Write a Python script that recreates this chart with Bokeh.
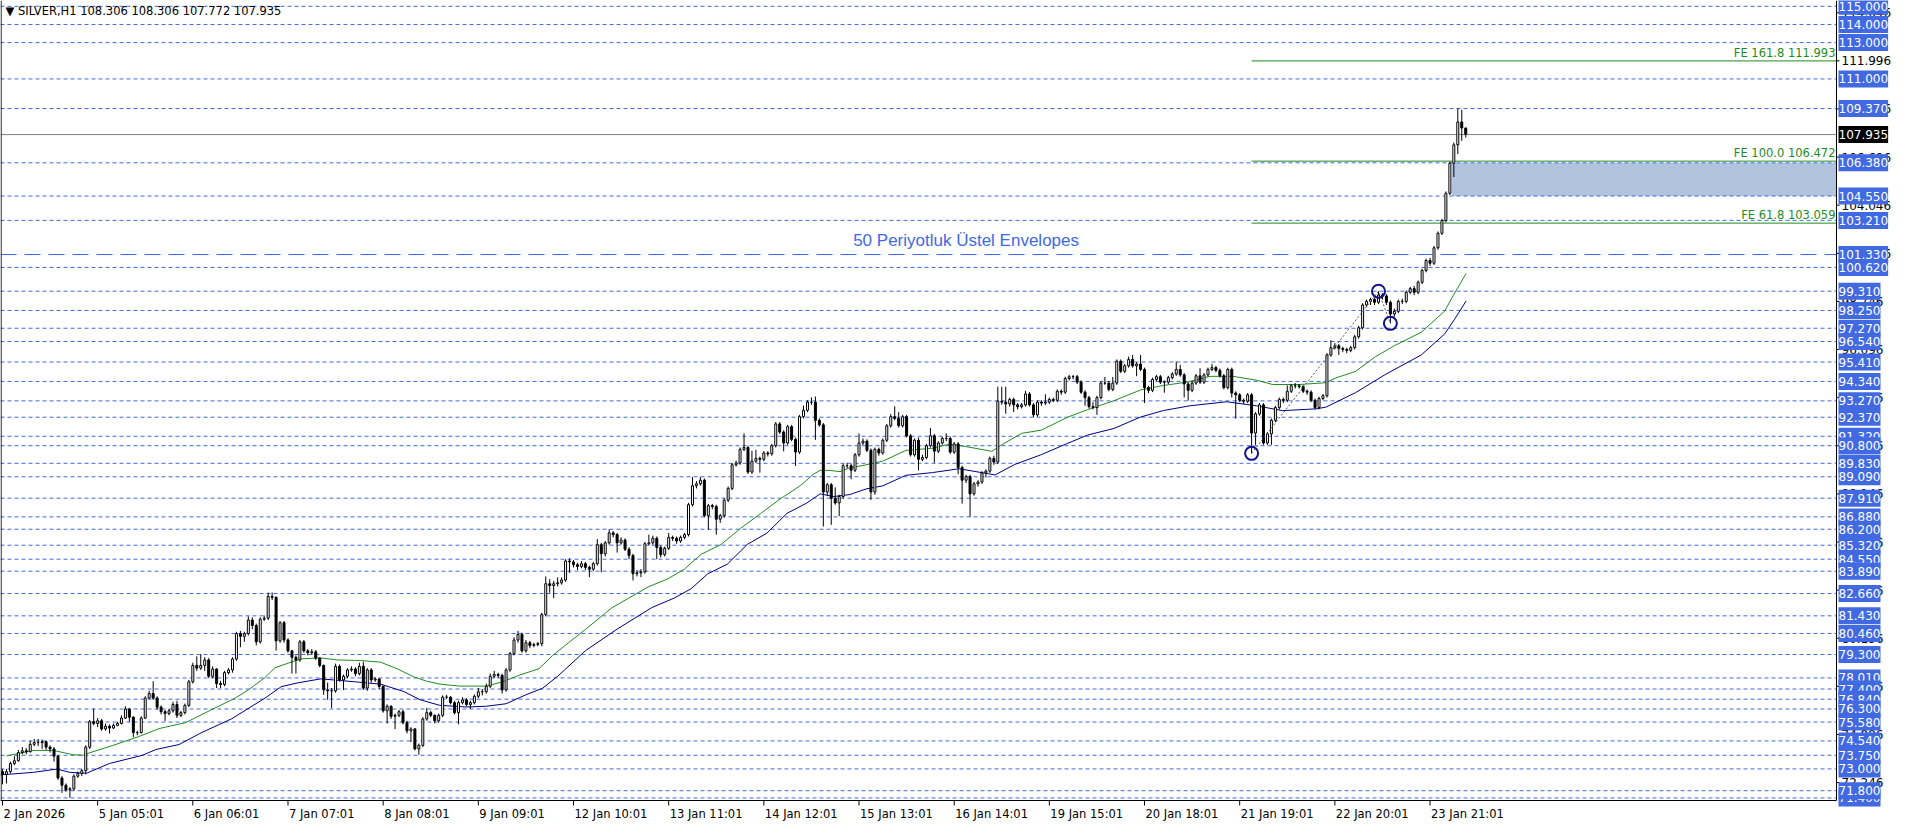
import math
from bokeh.plotting import figure
from bokeh.models import Label
from bokeh.embed import file_html
from bokeh.resources import INLINE
from bokeh.core.properties import value

# ---------------- data ----------------
symbol_text = "SILVER,H1"
last_ohlc = [108.306, 108.306, 107.772, 107.935]
first_open = 72.85

closes = [
    72.70, 72.85, 73.30, 73.45, 73.90, 74.00, 73.95, 74.35, 74.45, 74.45,
    74.50, 74.20, 74.10, 73.70, 72.50, 72.10, 71.85, 71.90, 72.60, 72.75,
    72.90, 74.20, 75.60, 75.50, 75.65, 75.20, 75.35, 75.25, 75.40, 75.50,
    75.80, 76.30, 75.85, 75.00, 75.00, 75.80, 76.90, 77.15, 76.90, 76.40,
    76.15, 76.05, 76.20, 76.55, 75.95, 76.10, 76.50, 77.80, 78.70, 78.55,
    78.70, 79.00, 78.10, 78.50, 77.70, 77.65, 78.30, 78.45, 79.05, 80.45,
    80.30, 80.45, 81.20, 80.90, 80.00, 81.25, 81.30, 82.50, 82.45, 80.05,
    81.05, 80.10, 79.50, 79.15, 79.00, 80.00, 79.50, 79.40, 79.45, 79.10,
    78.70, 77.35, 77.30, 77.30, 78.65, 77.90, 78.10, 78.45, 78.50, 78.25,
    78.65, 77.45, 78.45, 77.90, 77.95, 77.55, 76.20, 76.45, 75.90, 75.95,
    76.15, 75.55, 75.10, 75.20, 74.10, 74.30, 75.75, 76.10, 75.95, 75.65,
    75.95, 76.95, 76.95, 76.65, 76.10, 76.65, 76.80, 76.55, 76.65, 77.00,
    77.25, 77.25, 77.55, 78.10, 78.20, 78.15, 77.35, 78.45, 79.35, 80.10,
    80.40, 79.50, 79.95, 79.80, 79.85, 79.90, 81.50, 83.20, 83.10, 83.20,
    83.25, 83.40, 84.45, 84.40, 84.25, 84.15, 84.30, 84.10, 84.00, 84.30,
    85.35, 84.85, 85.45, 86.00, 85.90, 85.45, 85.60, 85.10, 84.75, 83.75,
    83.80, 83.85, 85.40, 85.45, 85.70, 85.20, 84.80, 85.15, 85.75, 85.70,
    85.55, 85.75, 85.90, 87.55, 88.60, 88.70, 88.90, 86.95, 87.50, 87.45,
    86.75, 86.95, 87.80, 88.45, 89.75, 89.85, 90.60, 90.70, 89.35, 89.95,
    90.10, 90.05, 90.40, 90.35, 90.80, 92.00, 91.55, 90.95, 91.85, 91.15,
    90.45, 92.40, 92.75, 93.20, 93.20, 92.20, 91.95, 88.25, 88.65, 87.90,
    87.65, 88.00, 89.70, 89.70, 89.45, 90.30, 90.95, 91.05, 90.55, 88.25,
    90.60, 90.40, 91.10, 91.90, 92.40, 92.30, 91.90, 92.40, 91.35, 90.30,
    91.10, 90.05, 90.15, 90.80, 91.35, 90.50, 90.95, 91.20, 91.20, 90.45,
    90.90, 89.60, 88.90, 89.10, 88.15, 88.70, 88.80, 89.30, 89.40, 90.10,
    89.90, 93.25, 93.20, 93.10, 93.35, 93.05, 92.95, 93.05, 93.65, 93.05,
    92.50, 93.20, 93.15, 93.20, 93.35, 93.30, 93.80, 93.75, 94.50, 94.60,
    94.60, 94.30, 93.75, 93.45, 92.95, 92.90, 93.45, 94.25, 94.25, 93.90,
    94.25, 95.45, 94.90, 95.20, 95.55, 95.20, 95.30, 95.00, 94.00, 93.85,
    94.45, 94.60, 94.30, 94.30, 94.55, 94.75, 95.00, 94.70, 94.20, 93.85,
    94.25, 94.65, 94.30, 94.70, 95.00, 95.10, 94.95, 94.65, 94.00, 95.00,
    93.70, 93.60, 93.30, 93.25, 93.60, 91.50, 92.55, 93.05, 90.95, 91.45,
    92.20, 92.90, 93.35, 93.30, 93.80, 94.10, 94.10, 94.05, 93.80, 93.75,
    93.30, 92.90, 93.40, 93.55, 95.80, 96.20, 96.30, 96.15, 96.10, 96.05,
    96.20, 96.80, 97.30, 98.55, 98.75, 98.85, 98.70, 99.10, 99.05, 98.70,
    98.05, 98.20, 98.75, 98.75, 99.25, 99.45, 99.25, 99.80, 100.45, 101.00,
    100.85, 101.70, 102.50, 103.20, 104.70, 106.36, 107.37, 108.63, 108.30, 107.935,
]

highs = [
    72.98, 73.00, 73.40, 73.70, 74.05, 74.20, 74.15, 74.55, 74.65, 74.65,
    74.62, 74.55, 74.30, 74.20, 73.75, 72.60, 72.20, 72.00, 72.70, 72.85,
    73.00, 74.30, 75.70, 76.32, 75.80, 75.75, 75.50, 75.45, 75.50, 75.60,
    75.95, 76.45, 76.35, 75.90, 75.10, 75.90, 77.00, 77.30, 77.83, 77.00,
    76.50, 76.25, 76.30, 76.70, 76.75, 76.20, 76.60, 77.90, 78.85, 79.20,
    79.33, 79.15, 79.10, 78.65, 78.55, 77.85, 78.40, 78.55, 79.15, 80.55,
    80.60, 80.55, 81.40, 81.35, 81.00, 81.35, 81.45, 82.71, 82.71, 82.50,
    81.15, 81.15, 80.20, 79.55, 79.25, 80.10, 80.10, 79.60, 79.60, 79.55,
    79.15, 78.75, 77.75, 77.45, 78.80, 78.75, 78.20, 78.55, 78.65, 78.60,
    78.85, 78.90, 78.55, 78.55, 78.05, 78.00, 77.60, 76.55, 76.50, 76.05,
    76.25, 76.25, 75.65, 75.30, 75.25, 74.40, 75.85, 76.36, 76.20, 76.00,
    76.05, 77.05, 77.08, 77.00, 76.75, 76.75, 76.95, 76.90, 76.75, 77.10,
    77.45, 77.40, 77.70, 78.25, 78.40, 78.30, 78.25, 78.55, 79.45, 80.25,
    80.60, 80.50, 80.10, 80.05, 79.95, 80.00, 81.60, 83.60, 83.45, 83.35,
    83.55, 83.55, 84.55, 84.60, 84.50, 84.35, 84.45, 84.40, 84.20, 84.40,
    85.66, 85.45, 85.55, 86.20, 86.10, 86.00, 85.75, 85.70, 85.20, 84.85,
    83.95, 84.00, 85.50, 85.90, 85.85, 85.80, 85.30, 85.25, 85.99, 85.85,
    85.80, 85.85, 86.00, 87.65, 89.08, 88.85, 89.08, 89.00, 87.60, 87.60,
    87.55, 87.05, 87.90, 88.55, 89.85, 89.98, 90.70, 91.48, 90.80, 90.52,
    90.57, 90.20, 90.50, 90.50, 90.90, 92.10, 92.10, 91.65, 91.95, 91.95,
    91.25, 92.50, 93.01, 93.30, 93.46, 93.51, 92.30, 92.05, 88.75, 88.75,
    88.51, 88.10, 89.80, 89.86, 89.80, 90.40, 91.48, 91.20, 91.15, 90.65,
    90.70, 90.70, 91.20, 92.00, 92.55, 92.97, 92.65, 92.50, 92.50, 91.45,
    91.20, 91.25, 90.30, 90.90, 91.78, 91.45, 91.05, 91.30, 91.48, 91.30,
    91.00, 91.00, 89.70, 89.20, 89.20, 88.80, 88.90, 89.40, 89.50, 90.20,
    90.25, 94.05, 94.05, 94.05, 93.45, 93.45, 93.15, 93.15, 93.82, 93.75,
    93.15, 93.30, 93.30, 93.64, 93.45, 93.45, 93.90, 93.90, 94.60, 94.70,
    94.70, 94.70, 94.40, 93.85, 93.55, 93.20, 93.55, 94.35, 94.59, 94.35,
    94.59, 95.55, 95.55, 95.30, 95.71, 95.80, 95.40, 95.80, 95.10, 94.10,
    94.55, 94.70, 94.70, 94.40, 94.65, 94.85, 95.43, 95.26, 94.80, 94.30,
    94.35, 94.75, 95.07, 94.80, 95.10, 95.31, 95.20, 95.05, 94.75, 95.10,
    95.10, 93.80, 93.70, 93.40, 93.70, 93.70, 92.65, 93.15, 93.15, 91.55,
    92.30, 93.00, 93.45, 93.45, 94.12, 94.20, 94.25, 94.20, 94.15, 93.90,
    93.85, 93.40, 93.50, 93.65, 95.90, 96.61, 96.45, 96.40, 96.25, 96.20,
    96.30, 96.90, 97.40, 98.65, 98.85, 98.95, 98.95, 99.31, 99.20, 99.15,
    98.80, 98.35, 98.85, 98.90, 99.35, 99.55, 99.60, 99.90, 100.55, 101.10,
    101.15, 101.80, 102.60, 103.30, 104.80, 106.45, 107.50, 109.38, 109.30, 108.306,
]

lows = [
    72.15, 72.20, 72.75, 73.20, 73.40, 73.80, 73.80, 73.90, 74.25, 74.25,
    74.10, 74.05, 73.90, 73.40, 72.40, 71.68, 71.75, 71.41, 71.80, 72.50,
    72.60, 72.70, 74.10, 75.40, 75.30, 75.10, 75.10, 74.95, 75.20, 75.35,
    75.45, 75.75, 75.60, 74.74, 74.85, 74.95, 75.75, 76.85, 76.80, 76.25,
    76.00, 75.64, 75.95, 76.10, 75.80, 75.85, 76.00, 76.40, 77.70, 78.40,
    78.45, 78.40, 78.00, 78.00, 77.45, 77.45, 77.55, 78.20, 78.30, 78.95,
    79.70, 80.00, 80.35, 80.70, 79.80, 79.90, 81.15, 81.20, 82.30, 79.51,
    79.95, 79.95, 79.40, 78.25, 78.25, 78.90, 79.40, 79.25, 79.30, 79.00,
    78.60, 77.08, 76.81, 76.36, 77.20, 77.80, 77.35, 78.00, 78.35, 78.10,
    78.15, 77.35, 77.30, 77.75, 77.80, 77.40, 76.10, 75.50, 75.75, 75.19,
    75.85, 75.45, 74.95, 74.47, 74.02, 73.78, 74.20, 75.65, 75.85, 75.50,
    75.55, 75.85, 76.85, 76.55, 76.00, 75.46, 76.55, 76.45, 76.30, 76.55,
    76.90, 77.05, 77.15, 77.45, 78.00, 78.00, 77.15, 77.25, 78.35, 79.25,
    79.95, 79.40, 79.40, 79.65, 79.70, 79.75, 79.75, 81.40, 82.70, 82.40,
    83.05, 83.15, 83.30, 83.80, 84.10, 83.95, 84.05, 83.95, 83.56, 83.90,
    84.20, 83.83, 84.70, 85.35, 85.75, 84.91, 85.35, 85.00, 84.55, 83.38,
    83.60, 83.56, 83.75, 85.30, 85.35, 84.55, 84.64, 84.70, 85.05, 85.55,
    85.40, 85.45, 85.65, 85.80, 87.45, 88.45, 88.60, 86.85, 86.17, 87.30,
    85.90, 86.55, 86.85, 87.70, 88.35, 89.65, 89.75, 90.50, 89.25, 89.25,
    89.85, 89.32, 89.95, 90.20, 90.25, 90.70, 91.45, 90.49, 90.85, 91.05,
    89.68, 90.35, 92.30, 92.65, 93.05, 91.12, 91.85, 86.35, 88.05, 86.44,
    87.55, 86.92, 87.90, 89.55, 88.96, 89.35, 90.20, 90.85, 90.45, 87.82,
    88.10, 90.25, 90.30, 91.00, 91.80, 92.20, 91.80, 91.80, 91.25, 90.20,
    90.20, 89.44, 89.95, 90.05, 90.70, 89.86, 90.40, 90.85, 91.05, 90.35,
    90.35, 89.23, 87.61, 88.75, 86.89, 88.05, 88.55, 88.70, 89.05, 89.30,
    89.75, 89.80, 93.05, 92.56, 92.95, 92.65, 92.80, 92.85, 92.95, 92.95,
    92.37, 92.40, 93.00, 93.05, 93.10, 93.20, 93.20, 93.60, 93.65, 94.40,
    94.45, 94.20, 93.65, 93.00, 92.85, 92.80, 92.50, 93.35, 94.15, 93.80,
    93.80, 94.15, 94.80, 94.80, 95.10, 95.10, 94.63, 94.90, 93.15, 93.70,
    93.75, 94.35, 94.20, 93.72, 94.20, 94.45, 94.65, 94.60, 93.46, 93.28,
    93.75, 94.15, 94.20, 94.20, 94.60, 94.90, 94.85, 94.55, 93.90, 93.90,
    93.46, 92.29, 93.20, 93.10, 93.15, 90.38, 90.85, 92.45, 90.85, 90.85,
    90.85, 92.10, 92.80, 93.15, 93.20, 93.70, 93.95, 93.95, 93.70, 93.60,
    93.20, 92.80, 92.80, 93.30, 93.45, 95.70, 96.10, 95.80, 95.95, 95.90,
    95.95, 96.10, 96.70, 97.20, 98.45, 98.55, 98.55, 98.60, 98.85, 98.55,
    97.54, 97.90, 98.10, 98.60, 98.65, 99.15, 99.10, 99.15, 99.70, 100.35,
    100.70, 100.75, 101.60, 102.40, 103.10, 104.60, 105.60, 106.86, 107.59, 107.772,
]

# 50-period exponential envelopes (upper = green, lower = navy), read at vertices
env_up_x = [1, 7.8, 12.8, 17.8, 20.3, 22, 27.8, 34.5, 39.5, 46.2, 52.8, 58.7, 62, 66.2, 68.7,
            72, 75.3, 80.3, 84.5, 90.3, 95.3, 99.5, 103.7, 107, 110.3, 115.3, 122, 126.2, 130.3,
            135.3, 138.7, 142.8, 147, 153.7, 157.8, 162.8, 167.8, 172, 176.2, 181.2, 186.2, 191.2,
            196.2, 201.2, 204.5, 206.2, 208.7, 211.2, 213.7, 217, 222, 227.8, 234.5, 238.7, 242.8,
            249.5, 252, 257, 262, 268.7, 273.7, 280.3, 287, 292.8, 298.7, 304.5, 310.3, 316.2,
            320.3, 327, 333.7, 336.2, 341.2, 346.2, 351.2, 357.8, 363.7, 366.2, 369.1]
env_up_y = [73.71, 74.02, 74.02, 73.78, 73.75, 73.89, 74.29, 74.79, 75.22, 75.55, 76.27, 76.90, 77.35,
            78.03, 78.57, 78.82, 79.06, 79.11, 79.00, 78.97, 78.88, 78.52, 78.07, 77.83, 77.67, 77.56,
            77.56, 77.80, 78.16, 78.52, 79.24, 79.96, 80.68, 81.88, 82.39, 83.02, 83.47, 84.01, 84.82,
            85.36, 86.26, 87.07, 87.88, 88.60, 89.23, 89.44, 89.44, 89.37, 89.59, 89.71, 89.95, 90.54,
            90.66, 90.88, 90.76, 90.49, 90.85, 91.48, 91.66, 92.38, 92.79, 93.28, 93.87, 94.12, 94.30,
            94.62, 94.62, 94.41, 94.17, 94.17, 94.27, 94.53, 94.89, 95.70, 96.33, 97.05, 98.22, 99.21,
            100.29]
env_lo_x = [-0.5, 7.8, 13.7, 17, 21.2, 27, 35.3, 38.7, 44.5, 50.3, 57.8, 66.2, 70.3, 74.5, 80.3,
            88.7, 95.3, 101.2, 105.3, 110.3, 117, 122, 127, 132, 136.2, 140.3, 147, 155, 163.7,
            169.5, 173.7, 177.8, 182.8, 187.8, 192.8, 197.8, 202.8, 206.2, 209.5, 213.7, 217.8, 222,
            227.8, 234.5, 241.2, 244.5, 250.3, 255.3, 262, 268.7, 273.7, 280.3, 287, 292.8, 299.5,
            308.7, 316.2, 322.8, 331.2, 333.7, 341.2, 348.7, 357.8, 363.7, 366.2, 369.1]
env_lo_y = [72.67, 72.81, 72.99, 72.81, 72.76, 73.30, 73.75, 74.07, 74.34, 75.01, 75.76, 76.90, 77.53,
            77.74, 77.96, 77.80, 77.67, 77.26, 76.81, 76.50, 76.41, 76.45, 76.59, 77.08, 77.44, 78.16,
            79.51, 80.70, 81.88, 82.42, 82.93, 83.74, 84.28, 85.36, 85.99, 87.07, 87.64, 88.15, 88.00,
            88.11, 88.42, 88.59, 89.17, 89.32, 89.53, 89.41, 89.19, 89.77, 90.31, 90.94, 91.39, 91.75,
            92.38, 92.74, 93.00, 93.22, 93.00, 92.73, 92.83, 92.92, 93.72, 94.72, 95.80, 96.96, 97.77,
            98.77]

# horizontal levels drawn by hand
level_lines = [115.0, 114.0, 113.0, 111.0, 109.37, 106.38, 104.55, 103.21, 100.62, 99.31, 98.25,
               97.27, 96.54, 95.41, 94.34, 93.27, 92.37, 91.32, 90.80, 89.83, 89.09, 87.91, 86.88,
               86.20, 85.32, 84.55, 83.89, 82.66, 81.43, 80.46, 79.30, 78.01, 77.40, 76.84, 76.30,
               75.58, 74.54, 73.75, 73.00, 71.40, 71.80]
env_level = 101.33
env_text = "50 Periyotluk Üstel Envelopes"
env_text_x = 243
env_text_y = 102.1

# Fibonacci expansion
fe_points_x = [315, 347, 350]
fe_points_y = [90.38, 99.31, 97.54]
fe_start = 315
fe_values = [111.993, 106.472, 103.059]
fe_labels = ["FE 161.8 111.993", "FE 100.0 106.472", "FE 61.8 103.059"]

zone_left = 365.5
zone_bottom = 104.55
zone_top = 106.38

# price scale ticks and time labels
price_ticks = [72.246, 74.896, 77.546, 80.196, 82.846, 85.496, 88.146, 90.796, 93.446, 96.096,
               98.746, 101.396, 104.046, 106.696, 109.346, 111.996, 114.646]
time_ticks = [0, 24, 48, 72, 96, 120, 144, 168, 192, 216, 240, 264, 288, 312, 336, 360]
time_labels = ["2 Jan 2026", "5 Jan 05:01", "6 Jan 06:01", "7 Jan 07:01", "8 Jan 08:01",
               "9 Jan 09:01", "12 Jan 10:01", "13 Jan 11:01", "14 Jan 12:01", "15 Jan 13:01",
               "16 Jan 14:01", "19 Jan 15:01", "20 Jan 18:01", "21 Jan 19:01", "22 Jan 20:01",
               "23 Jan 21:01"]

# ---------------- layout (MT4-like: chart area + price scale + time scale) ----------------
CANVAS_W, CANVAS_H = 1900, 824
CHART_W, CHART_H = 1836, 800          # pixels of the chart area inside the canvas
X_START, AXIS_X = -0.5, 462.5         # bar range shown in the chart area
PRICE_TOP, PRICE_BOTTOM = 115.32, 71.26
bars_per_px = (AXIS_X - X_START) / CHART_W
price_per_px = (PRICE_TOP - PRICE_BOTTOM) / CHART_H
X_END = X_START + CANVAS_W * bars_per_px
Y_START = PRICE_BOTTOM - (CANVAS_H - CHART_H) * price_per_px

FONT = "DejaVu Sans"
FSIZE = "11.5px"
SCALE_FSIZE = "12px"
BLUE = "#4169E1"

p = figure(width=CANVAS_W, height=CANVAS_H, x_range=(X_START, X_END),
           y_range=(Y_START, PRICE_TOP), x_axis_location=None, y_axis_location=None,
           output_backend="svg", toolbar_location=None,
           min_border_left=0, min_border_top=0, min_border_right=0, min_border_bottom=0,
           background_fill_color="white", border_fill_color="white", outline_line_color=None)
p.xgrid.visible = False
p.ygrid.visible = False

# zone
p.quad(left=[zone_left], right=[AXIS_X], bottom=[zone_bottom], top=[zone_top],
       fill_color="#B0C4DE", line_color=None)

# levels
nl = len(level_lines)
p.segment(x0=[X_START] * nl, y0=level_lines, x1=[AXIS_X] * nl, y1=level_lines,
          line_color=BLUE, line_width=1, line_dash="4 3")
p.segment(x0=[X_START], y0=[env_level], x1=[AXIS_X], y1=[env_level],
          line_color=BLUE, line_width=1, line_dash="16 8")
p.segment(x0=[X_START], y0=[last_ohlc[3]], x1=[AXIS_X], y1=[last_ohlc[3]],
          line_color="#808080", line_width=1)

# FE lines
nf = len(fe_values)
p.segment(x0=[fe_start] * nf, y0=fe_values, x1=[AXIS_X] * nf, y1=fe_values,
          line_color="#1E8B1E", line_width=1)

# envelopes
p.line(env_up_x, env_up_y, line_color="#228B22", line_width=1)
p.line(env_lo_x, env_lo_y, line_color="#000080", line_width=1)

# candles
n = len(closes)
bars = list(range(n))
opens = [first_open] + closes[:-1]
p.segment(x0=bars, y0=lows, x1=bars, y1=highs, line_color="black", line_width=1)
bx, bt, bb, rx, rt, rb = [], [], [], [], [], []
for i in range(n):
    o, c = opens[i], closes[i]
    if c >= o:
        bx.append(i); bt.append(c); bb.append(o)
    else:
        rx.append(i); rt.append(o); rb.append(c)
p.vbar(x=bx, width=0.5, top=bt, bottom=bb, fill_color="white", line_color="black", line_width=1)
p.vbar(x=rx, width=0.5, top=rt, bottom=rb, fill_color="black", line_color="black", line_width=1)

# FE construction
p.line(fe_points_x, fe_points_y, line_color="#555555", line_width=1, line_dash="2 2")
p.scatter(fe_points_x, fe_points_y, marker="circle", size=13, fill_color=None,
          line_color="#12128C", line_width=2)

# envelope caption
p.text(x=[env_text_x], y=[env_text_y], text=[env_text], text_font=value("Liberation Sans"),
       text_font_size="17px", text_color=BLUE, text_align="center", text_baseline="middle")

# chart frame: left border, price-scale line, time-scale line
p.segment(x0=[X_START + 0.15, AXIS_X, X_START], y0=[PRICE_BOTTOM, PRICE_BOTTOM, PRICE_BOTTOM],
          x1=[X_START + 0.15, AXIS_X, AXIS_X], y1=[PRICE_TOP, PRICE_TOP, PRICE_BOTTOM],
          line_color="black", line_width=1)

# price scale: ticks + labels
p.ray(x=[AXIS_X] * len(price_ticks), y=price_ticks, length=3, length_units="screen", angle=0,
      line_color="black", line_width=1)
p.text(x=[AXIS_X] * len(price_ticks), y=price_ticks, text=[f"{v:.3f}" for v in price_ticks],
       x_offset=5, text_align="left", text_baseline="middle", text_font=value(FONT),
       text_font_size=SCALE_FSIZE, text_color="black")

# time scale: ticks + labels (left-anchored like MT4)
p.ray(x=time_ticks, y=[PRICE_BOTTOM] * len(time_ticks), length=5, length_units="screen",
      angle=-math.pi / 2, line_color="black", line_width=1)
p.text(x=time_ticks, y=[PRICE_BOTTOM] * len(time_ticks), text=time_labels, x_offset=1,
       y_offset=6, text_align="left", text_baseline="top", text_font=value(FONT),
       text_font_size=FSIZE, text_color="black")

# FE labels
for v, s in zip(fe_values, fe_labels):
    p.add_layout(Label(x=AXIS_X, y=v, x_offset=-1, y_offset=1, text=s, text_align="right",
                       text_baseline="bottom", text_font=FONT, text_font_size=FSIZE,
                       text_color="#1E8B1E"))

# title
title_text = "\u25BC " + symbol_text + "  " + " ".join(f"{v:.3f}" for v in last_ohlc)
p.add_layout(Label(x=X_START, y=PRICE_TOP, x_offset=5, y_offset=-3, text=title_text,
                   text_align="left", text_baseline="top", text_font=FONT,
                   text_font_size=FSIZE, text_color="black"))

# level tags on the price scale
for v in level_lines + [env_level]:
    p.add_layout(Label(x=AXIS_X, y=v, x_offset=2, text=f"{v:.3f}", text_align="left",
                       text_baseline="middle", text_font=FONT, text_font_size=SCALE_FSIZE,
                       text_color="white", background_fill_color=BLUE, padding=(0, 4)))
p.add_layout(Label(x=AXIS_X, y=last_ohlc[3], x_offset=2, text=f"{last_ohlc[3]:.3f}",
                   text_align="left", text_baseline="middle", text_font=FONT,
                   text_font_size=SCALE_FSIZE, text_color="white", background_fill_color="black",
                   padding=(0, 4)))

open("out.html", "w").write(file_html(p, INLINE))
